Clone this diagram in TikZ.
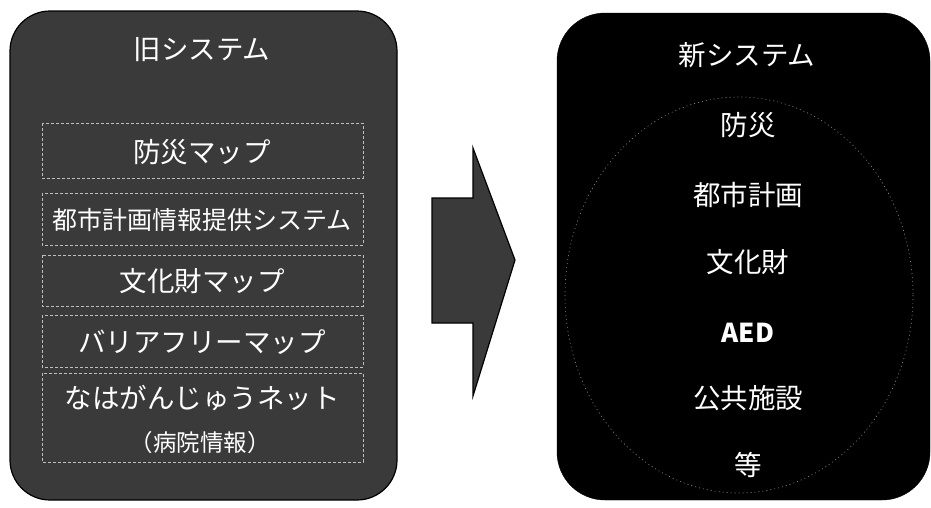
\documentclass[tikz,border=0pt]{standalone}
\usepackage{fontspec}
\newfontfamily\jp{Noto Sans CJK JP}
\usetikzlibrary{shapes.geometric}
\definecolor{oldfill}{HTML}{3A3A3A}
\tikzset{
  oldbox/.style={fill=oldfill, draw=black, line width=1.2pt, rounded corners=40pt},
  newbox/.style={fill=black, draw=black, rounded corners=48pt},
  item/.style={draw=white!75!black, densely dashed, line width=0.6pt},
  wtext/.style={text=white, font=\jp\fontsize{27.5}{30}\selectfont, inner sep=0pt},
  arrowshape/.style={fill=oldfill, draw=black, line width=1.2pt},
}
\begin{document}
\begin{tikzpicture}[x=1pt,y=-1pt]
\useasboundingbox (0,0) rectangle (931,507);
% old system
\path[oldbox] (10,11) rectangle (397,500);
\node[wtext] (oldt) at (202,50) {旧システム};
\draw[item] (42,123) rectangle (363,178);
\draw[item] (42,193) rectangle (363,245);
\draw[item] (42,255) rectangle (363,306);
\draw[item] (42,315) rectangle (363,367);
\draw[item] (42,373) rectangle (363,462);
\node[wtext] (o1) at (202,152) {防災マップ};
\node[wtext, font=\jp\fontsize{25}{28}\selectfont] (o2) at (202,220) {都市計画情報提供システム};
\node[wtext] (o3) at (202,281) {文化財マップ};
\node[wtext] (o4) at (202,342) {バリアフリーマップ};
\node[wtext] (o5) at (202,398) {なはがんじゅうネット};
\node[wtext, font=\jp\fontsize{23.5}{26}\selectfont] (o6) at (200,443) {（病院情報）};
% arrow
\path[arrowshape] (432,198) -- (473,198) -- (473,148) -- (515,260) -- (473,396) -- (473,323) -- (432,323) -- cycle;
% new system
\path[newbox] (557,13) rectangle (930,500);
\draw[white!55!black, dash pattern=on 1pt off 3pt, line width=0.6pt] (739,295) ellipse [x radius=174, y radius=198];
\node[wtext] (nt) at (747,55) {新システム};
\node[wtext] (n1) at (748,125) {防災};
\node[wtext] (n2) at (748,195) {都市計画};
\node[wtext] (n3) at (748,262) {文化財};
\node[wtext, font=\jp\bfseries\fontsize{26}{30}\selectfont] (n4) at (748,333) {AED};
\node[wtext] (n5) at (748,398) {公共施設};
\node[wtext] (n6) at (748,465) {等};
\end{tikzpicture}
\end{document}
